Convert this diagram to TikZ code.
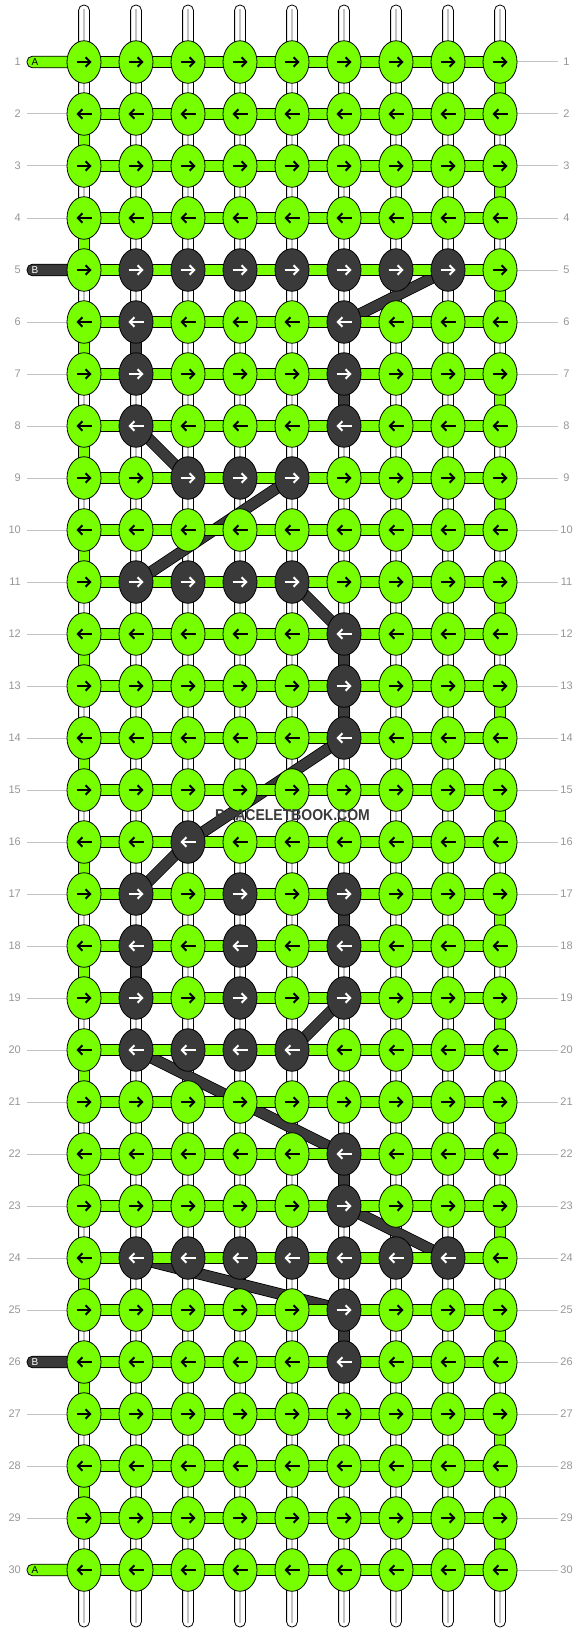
\documentclass[tikz,border=0pt]{standalone}
\usepackage{fontspec}
\setmainfont{Liberation Sans}
\usetikzlibrary{shapes.geometric,arrows.meta}

\definecolor{strA}{RGB}{119,255,0}
\definecolor{strB}{RGB}{58,58,58}
\definecolor{rowgray}{RGB}{150,150,150}
\definecolor{guide}{RGB}{195,195,195}

\pgfdeclarelayer{warp}
\pgfdeclarelayer{carry}
\pgfdeclarelayer{weft}
\pgfsetlayers{warp,carry,weft,main}

\newcommand\markdark[2]{\expandafter\gdef\csname dk-#1-#2\endcsname{}}

\tikzset{
  knot/.style={ellipse, draw=black, line width=0.8, fill=#1, inner sep=0,
    minimum width=34, minimum height=42.5},
  strap/.style={fill=#1, draw=black, line width=0.8},
  carried/.style={draw=strB, line width=10, preaction={draw=black, line width=11.6}},
  tick/.style={-{Straight Barb[length=4.5,width=9.5]}, line width=2, draw=#1},
  rownum/.style={text=rowgray, font=\fontsize{11}{11}\selectfont, inner sep=0},
  tailtext/.style={text=#1, font=\fontsize{10}{10}\selectfont, inner sep=0, anchor=west}
}

\begin{document}
\begin{tikzpicture}[x=1pt,y=-1pt]
\useasboundingbox (0,0) rectangle (584,1632);

% knots of string B
\foreach \r/\c in {5/1,5/2,5/3,5/4,5/5,5/6,5/7,6/1,6/5,7/1,7/5,8/1,8/5,9/2,9/3,9/4,
  11/1,11/2,11/3,11/4,12/5,13/5,14/5,16/2,17/1,17/3,17/5,18/1,18/3,18/5,19/1,19/3,19/5,
  20/1,20/2,20/3,20/4,22/5,23/5,24/1,24/2,24/3,24/4,24/5,24/6,24/7,25/5,26/5}
  {\markdark{\r}{\c}}

% knots and arrows
\foreach \r in {1,...,30}
  \foreach \c in {0,...,8} {
    \ifcsname dk-\r-\c\endcsname \def\kc{strB}\def\ac{white}\else \def\kc{strA}\def\ac{black}\fi
    \node[knot=\kc] (k-\r-\c) at ({84+52*\c},{62+52*(\r-1)}) {};
    \ifodd\r
      \draw[tick=\ac] ([xshift=-7.5]k-\r-\c.center) -- ([xshift=7.5]k-\r-\c.center);
    \else
      \draw[tick=\ac] ([xshift=7.5]k-\r-\c.center) -- ([xshift=-7.5]k-\r-\c.center);
    \fi
  }

% row numbers
\foreach \r in {1,...,30} {
  \node[rownum, anchor=east] (ln-\r) at (21,{62+52*(\r-1)}) {\r};
  \node[rownum] (rn-\r) at (566.5,{62+52*(\r-1)}) {\r};
  \coordinate (gl-\r) at (27,{62+52*(\r-1)});
  \coordinate (gr-\r) at (558,{62+52*(\r-1)});
}

% base strands
\begin{pgfonlayer}{warp}
  \foreach \c in {0,...,8} {
    \coordinate (top-\c) at ({84+52*\c},5);
    \coordinate (bot-\c) at ({84+52*\c},1627);
    \draw[strap=white, rounded corners=5.2] ([xshift=-5.4]top-\c) rectangle ([xshift=5.4]bot-\c);
    \fill[guide] ([xshift=-0.7,yshift=-4]top-\c) rectangle ([xshift=0.7,yshift=4]bot-\c);
  }
  \foreach \r in {1,...,30} {
    \draw[guide, line width=1] (gl-\r) -- (k-\r-0.center);
    \draw[guide, line width=1] (k-\r-8.center) -- (gr-\r);
  }
\end{pgfonlayer}

% string B carried behind
\begin{pgfonlayer}{carry}
  \foreach \a/\b/\p/\q in {5/7/6/5, 8/1/9/2, 9/4/11/1, 11/4/12/5, 14/5/16/2, 16/2/17/1,
    19/5/20/4, 20/1/22/5, 23/5/24/7, 24/1/25/5}
    \draw[carried] (k-\a-\b.center) -- (k-\p-\q.center);
\end{pgfonlayer}

% rows, turns and tails
\begin{pgfonlayer}{weft}
  \foreach \r in {1,...,30} {
    \foreach \c/\cc in {0/1,1/2,2/3,3/4,4/5,5/6,6/7,7/8} {
      \draw[strap=strA] ([yshift=5.8]k-\r-\c.center) rectangle ([yshift=-5.8]k-\r-\cc.center);
    }
  }
  \foreach \r [evaluate=\r as \n using int(\r+1)] in {1,...,29} {
    \ifodd\r \def\e{8}\else \def\e{0}\fi
    \draw[strap=strA] ([xshift=-5.8]k-\r-\e.center) rectangle ([xshift=5.8]k-\n-\e.center);
  }
  \foreach \r/\n/\c in {6/7/1, 7/8/5, 12/13/5, 13/14/5, 17/18/5, 18/19/1, 22/23/5, 25/26/5}
    \draw[strap=strB] ([xshift=-5.8]k-\r-\c.center) rectangle ([xshift=5.8]k-\n-\c.center);
  \foreach \r/\s in {1/strA, 30/strA, 5/strB, 26/strB} {
    \coordinate (tail-\r) at (27,{62+52*(\r-1)});
    \draw[strap=\s, rounded corners=5.4] ([yshift=5.8]tail-\r) rectangle ([yshift=-5.8]k-\r-0.center);
  }
\end{pgfonlayer}
\node[tailtext=black] (ta-1) at (31.5,62) {A};
\node[tailtext=black] (ta-30) at (31.5,1570) {A};
\node[tailtext=white] (tb-5) at (31.5,270) {B};
\node[tailtext=white] (tb-26) at (31.5,1362) {B};

\node[text=strB, font=\bfseries\fontsize{14}{14}\selectfont] (logo) at (292.5,815)
  {\scalebox{1}[1.12]{BRACELETBOOK.COM}};
\end{tikzpicture}
\end{document}
